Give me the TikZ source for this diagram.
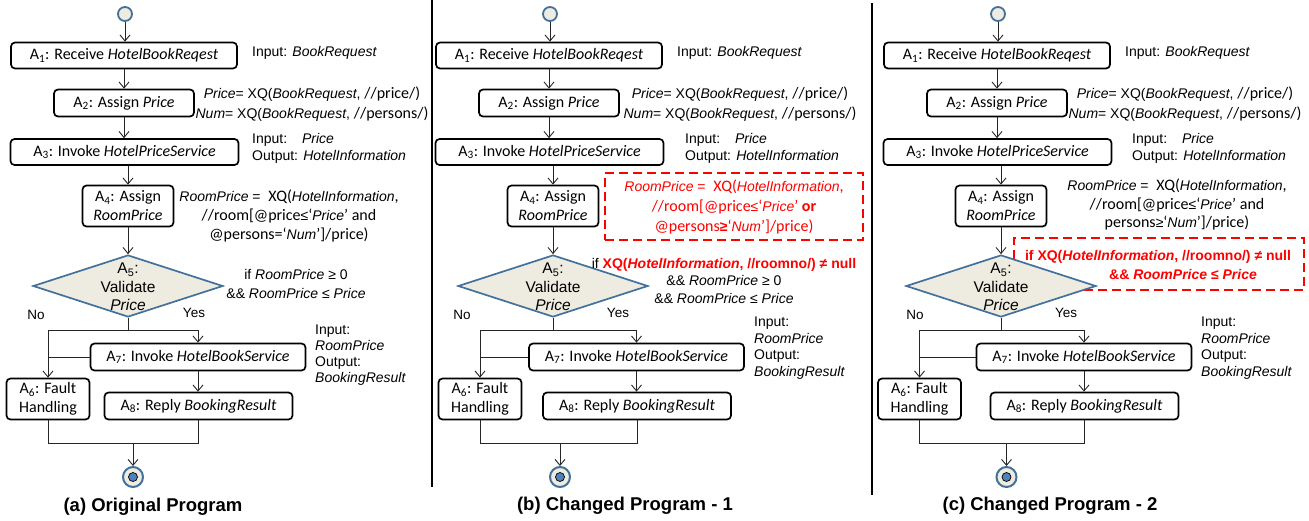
\documentclass[tikz,border=0pt]{standalone}
\usepackage{fontspec}
\setmainfont{Liberation Sans}
\newfontfamily\calfont{Carlito}
\newfontfamily\arsm[Scale=0.875]{Liberation Sans}
\newfontfamily\calbig[Scale=1.143]{Carlito}
\usetikzlibrary{shapes.geometric,arrows.meta}
\definecolor{dblue}{HTML}{41719C}
\definecolor{bfill}{HTML}{EEECE1}
\definecolor{ifill}{HTML}{4F81BD}
\definecolor{rred}{HTML}{FF0000}
\newcommand\vi[1]{{\arsm\itshape #1}}
\tikzset{
 box/.style={draw=black, line width=1.7pt, rounded corners=4pt, fill=white, inner sep=0pt, align=center, font=\calfont\fontsize{16}{19}\selectfont},
 dia/.style={diamond, draw=dblue, line width=1.7pt, fill=bfill, minimum width=190pt, minimum height=62pt, inner sep=0pt},
 diatext/.style={align=center, inner sep=0pt, font=\fontsize{15.5}{18.5}\selectfont},
 startc/.style={circle, draw=dblue, line width=1.8pt, fill=bfill, minimum size=14pt, inner sep=0pt},
 endo/.style={circle, draw=dblue, line width=2pt, fill=bfill, minimum size=20pt, inner sep=0pt},
 endi/.style={circle, draw=black, line width=0.7pt, fill=ifill, minimum size=9pt, inner sep=0pt},
 conn/.style={draw=black!85, line width=0.9pt},
 arr/.style={-{Straight Barb[length=6pt,width=10pt]}},
 ann/.style={inner sep=0pt, align=left, font=\fontsize{14}{17}\selectfont},
 annc/.style={inner sep=0pt, align=center, font=\fontsize{14}{20}\selectfont},
 annx/.style={inner sep=0pt, align=center, font=\calfont\fontsize{16}{19}\selectfont},
 yn/.style={inner sep=0pt, font=\fontsize{13.5}{16}\selectfont},
 captext/.style={inner sep=0pt, font=\bfseries\fontsize{18.5}{22}\selectfont},
 redbox/.style={draw=rred, line width=2.2pt, dash pattern=on 9pt off 5pt, inner sep=0pt},
 divider/.style={draw=black, line width=2.2pt},
}
% #1 prefix, #2 dx upper, #3 dx A6, #4 dx A7/A8, #5 dx end
\newcommand\panelflow[5]{%
 \node[startc] (#1s) at (125+#2,14) {};
 \node[box, minimum width=226pt, minimum height=26pt] (#1a1) at (124+#2,55.5) {A\textsubscript{1}: Receive \textit{HotelBookReqest}};
 \node[box, minimum width=140pt, minimum height=27pt] (#1a2) at (124+#2,103) {A\textsubscript{2}: Assign \textit{Price}};
 \node[box, minimum width=228pt, minimum height=26pt] (#1a3) at (124.5+#2,152) {A\textsubscript{3}: Invoke \textit{HotelPriceService}};
 \node[box, minimum width=91pt, minimum height=41pt] (#1a4) at (128+#2,206) {A\textsubscript{4}: Assign\\\textit{RoomPrice}};
 \node[dia] (#1a5) at (128+#2,286) {};
 \node[diatext] (#1a5t) at (128+#2,287) {A\textsubscript{5}:\\Validate\\\textit{Price}};
 \node[box, minimum width=215pt, minimum height=27pt] (#1a7) at (198+#4,357) {A\textsubscript{7}: Invoke \textit{HotelBookService}};
 \node[box, minimum width=83pt, minimum height=41pt] (#1a6) at (48+#3,399) {A\textsubscript{6}: Fault\\Handling};
 \node[box, minimum width=188pt, minimum height=27pt] (#1a8) at (198.5+#4,406) {A\textsubscript{8}: Reply \textit{BookingResult}};
 \node[endo] (#1e) at (133+#5,477) {};
 \node[endi] (#1ei) at (#1e.center) {};
 \coordinate (#1sp) at (128+#2,330);
 \coordinate (#1bj) at (133+#5,443);
 \draw[conn,arr] (#1s.south) -- (#1s.south |- #1a1.north);
 \draw[conn,arr] (#1a1.south -| #1a2.north) -- (#1a2.north);
 \draw[conn,arr] (#1a2.south) -- (#1a2.south |- #1a3.north);
 \draw[conn,arr] (#1a3.south -| #1a4.north) -- (#1a4.north);
 \draw[conn,arr] (#1a4.south) -- (#1a5.north);
 \draw[conn] (#1a5.south) -- (#1sp);
 \draw[conn,arr] (#1sp) -| (#1a6.north);
 \draw[conn,arr] (#1sp) -| (#1a7.north);
 \draw[conn] (#1a7.west) -- (#1a7.west -| #1a6.north);
 \draw[conn,arr] (#1a7.south) -- (#1a7.south |- #1a8.north);
 \draw[conn] (#1a6.south) |- (#1bj);
 \draw[conn] (#1a8.south) |- (#1bj);
 \draw[conn,arr] (#1bj) -- (#1e.north);
}
\begin{document}
\begin{tikzpicture}[x=1pt,y=-1pt]
\useasboundingbox (0,0) rectangle (1309,520);
\draw[divider] (432,0) -- (432,487);
\draw[divider] (872,3) -- (872,495);

% ---------- panel (a)
\panelflow{a}{0}{0}{0}{0}
\node[ann, anchor=west] (aan1) at (252,53) {Input: \textit{BookRequest}};
\node[annc] (aan2) at (312,104) {\textit{Price}= XQ(\textit{BookRequest}, {\calbig //price/)}\\\textit{Num}= XQ(\textit{BookRequest}, {\calbig //persons/)}};
\node[ann, anchor=west] (aan3) at (252,148.5) {\makebox[49.8pt][l]{Input:}\textit{Price}\\Output: \textit{HotelInformation}};
\node[annx] (aan4) at (289,216) {\vi{RoomPrice} {\arsm =}\enspace XQ(\vi{HotelInformation},\\//room[@price{\arsm ≤}‘\vi{Price}’ and\\@persons=‘\vi{Num}’]/price)};
\node[annc, font=\fontsize{14}{19}\selectfont] (aan5) at (296,283.5) {if \textit{RoomPrice} ≥ 0\\\&\& \textit{RoomPrice} ≤ \textit{Price}};
\node[yn] (ano) at (36,315) {No};
\node[yn] (ayes) at (194,313) {Yes};
\node[ann, font=\fontsize{14}{16}\selectfont, anchor=west] (aan6) at (315,355) {Input:\\\textit{RoomPrice}\\Output:\\\textit{BookingResult}};
\node[captext] (acap) at (153,507) {(a) Original Program};

% ---------- panel (b)
\panelflow{b}{425}{432}{438.5}{427}
\node[ann, anchor=west] (ban1) at (677,53) {Input: \textit{BookRequest}};
\node[annc] (ban2) at (740,104) {\textit{Price}= XQ(\textit{BookRequest}, {\calbig //price/)}\\\textit{Num}= XQ(\textit{BookRequest}, {\calbig //persons/)}};
\node[ann, anchor=west] (ban3) at (685,148.5) {\makebox[49.8pt][l]{Input:}\textit{Price}\\Output: \textit{HotelInformation}};
\node[redbox, minimum width=258pt, minimum height=67pt] (bbox4) at (734,206.5) {};
\node[annx, text=rred, font=\calfont\fontsize{16}{20}\selectfont] (ban4) at (734,207) {\vi{RoomPrice} {\arsm =}\enspace XQ(\vi{HotelInformation},\\//room[@price{\arsm ≤}‘\vi{Price}’ \textbf{or}\\@persons\textbf{{\arsm ≥}}‘\vi{Num}’]/price)};
\node[annc, font=\fontsize{14}{17.5}\selectfont] (ban5) at (724,280.5) {if \textcolor{rred}{\textbf{XQ(\textit{HotelInformation}, //roomno/) ≠ null}}\\\&\& \textit{RoomPrice} ≥ 0\\\&\& \textit{RoomPrice} ≤ \textit{Price}};
\node[yn] (bno) at (462,315) {No};
\node[yn] (byes) at (618,313) {Yes};
\node[ann, font=\fontsize{14}{16.5}\selectfont, anchor=west] (ban6) at (754,348) {Input:\\\textit{RoomPrice}\\Output:\\\textit{BookingResult}};
\node[captext] (bcap) at (625,506) {(b) Changed Program - 1};

% ---------- panel (c)
\node[redbox, minimum width=290pt, minimum height=52pt] (cbox5) at (1159,264) {};
\panelflow{c}{873}{871.5}{886}{873.5}
\node[ann, anchor=west] (can1) at (1125,53) {Input: \textit{BookRequest}};
\node[annc] (can2) at (1185,104) {\textit{Price}= XQ(\textit{BookRequest}, {\calbig //price/)}\\\textit{Num}= XQ(\textit{BookRequest}, {\calbig //persons/)}};
\node[ann, anchor=west] (can3) at (1132,148.5) {\makebox[49.8pt][l]{Input:}\textit{Price}\\Output: \textit{HotelInformation}};
\node[annx, font=\calfont\fontsize{16}{18.5}\selectfont] (can4) at (1177,204.5) {\vi{RoomPrice} {\arsm =}\enspace XQ(\vi{HotelInformation},\\//room[@price{\arsm ≤}‘\vi{Price}’ and\\persons{\arsm ≥}‘\vi{Num}’]/price)};
\node[ann, text=rred, font=\bfseries\fontsize{14}{17}\selectfont] (can5a) at (1158,257) {if XQ(\textit{HotelInformation}, //roomno/) ≠ null};
\node[ann, text=rred, font=\bfseries\fontsize{14}{17}\selectfont] (can5b) at (1183,274) {\&\& \textit{RoomPrice} ≤ \textit{Price}};
\node[yn] (cno) at (915,315) {No};
\node[yn] (cyes) at (1066,313) {Yes};
\node[ann, font=\fontsize{14}{16.5}\selectfont, anchor=west] (can6) at (1201,348) {Input:\\\textit{RoomPrice}\\Output:\\\textit{BookingResult}};
\node[captext] (ccap) at (1050,506) {(c) Changed Program - 2};
\end{tikzpicture}
\end{document}
